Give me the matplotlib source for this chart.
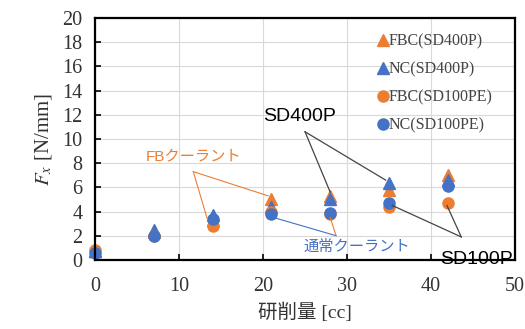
import numpy as np
import matplotlib.pyplot as plt

# data
x_cc = [0, 7, 14, 21, 28, 35, 42]
fbc_sd400p = [0.7, 2.3, 3.3, 5.0, 5.3, 5.8, 7.0]
nc_sd400p = [0.7, 2.5, 3.7, 4.4, 5.0, 6.4, 6.6]
fbc_sd100pe = [0.8, 2.0, 2.8, 4.0, 3.8, 4.4, 4.7]
nc_sd100pe = [0.6, 2.0, 3.4, 3.8, 3.9, 4.7, 6.1]

orange = '#ED7D31'
blue = '#4472C4'
serif = ['Liberation Serif', 'Noto Sans CJK JP']
sans = ['Liberation Sans', 'Noto Sans CJK JP']
plt.rcParams['mathtext.fontset'] = 'stix'

fig = plt.figure(figsize=(5.25, 3.29), dpi=100)
ax = fig.add_axes([0.181, 0.21, 0.80, 0.735])

ax.plot(x_cc, fbc_sd400p, '^', color=orange, ms=8, clip_on=False, label='FBC(SD400P)')
ax.plot(x_cc, nc_sd400p, '^', color=blue, ms=8, clip_on=False, label='NC(SD400P)')
ax.plot(x_cc, fbc_sd100pe, 'o', color=orange, ms=8, clip_on=False, label='FBC(SD100PE)')
ax.plot(x_cc, nc_sd100pe, 'o', color=blue, ms=8, clip_on=False, label='NC(SD100PE)')

ax.set_xlim(0, 50)
ax.set_ylim(0, 20)
ax.set_xticks(np.arange(0, 51, 10))
ax.set_yticks(np.arange(0, 21, 2))
ax.grid(True, color='#d9d9d9', lw=0.8)
ax.set_axisbelow(True)
ax.tick_params(direction='in', length=4, width=1.2, labelsize=14.5, pad=9)
ax.tick_params(axis='x', pad=12)
for lab in ax.get_xticklabels() + ax.get_yticklabels():
    lab.set_family(serif)
    lab.set_color('#333333')
for s in ax.spines.values():
    s.set_linewidth(1.6)

ax.set_ylabel('$F_x$ [N/mm]', family=serif, fontsize=15, color='#333333', labelpad=6)
ax.set_xlabel('研削量 [cc]', family=serif, fontsize=14, color='#333333', labelpad=5)

leg = ax.legend(loc='upper right', frameon=False, prop={'family': serif, 'size': 11.5},
                handlelength=0.5, handletextpad=0.1, labelspacing=0.75,
                borderaxespad=0.2, bbox_to_anchor=(0.97, 0.975))
for t in leg.get_texts():
    t.set_color('#444444')

# annotations
ax.text(11.7, 8.5, 'FBクーラント', color=orange, fontsize=11, family=sans,
        ha='center', va='center')
ax.plot([11.7, 13.4], [7.3, 3.3], color=orange, lw=0.8)
ax.plot([11.7, 20.6], [7.3, 5.3], color=orange, lw=0.8)

ax.text(31.2, 1.1, '通常クーラント', color=blue, fontsize=11, family=sans,
        ha='center', va='center')
ax.plot([28.7, 20.8], [2.0, 3.6], color=blue, lw=0.8)
ax.plot([28.7, 28.0], [2.0, 3.5], color=orange, lw=0.8)

ax.text(24.4, 11.9, 'SD400P', color='black', fontsize=14, family=sans,
        ha='center', va='center')
ax.plot([25.0, 28.0], [10.6, 5.6], color='#444444', lw=0.9)
ax.plot([25.0, 34.6], [10.6, 6.6], color='#444444', lw=0.9)

ax.text(45.4, 0.05, 'SD100P', color='black', fontsize=14, family=sans,
        ha='center', va='center')
ax.plot([43.6, 41.9], [1.9, 4.5], color='#444444', lw=0.9)
ax.plot([43.6, 35.4], [1.9, 4.5], color='#444444', lw=0.9)

fig.savefig('out.png')
